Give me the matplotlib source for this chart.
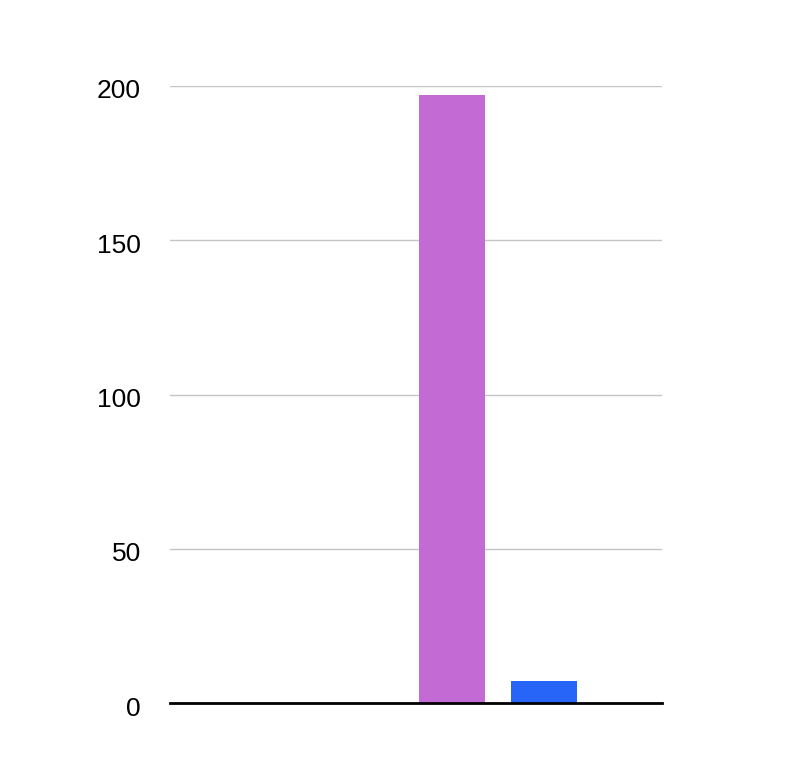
import matplotlib
matplotlib.use("Agg")
import matplotlib.pyplot as plt
import matplotlib.transforms as mtransforms

categories = ["A", "B"]
values = [197, 7]
colors = ["#C46AD5", "#2764F8"]
yticks = [0, 50, 100, 150, 200]

W, H = 786, 764
fig = plt.figure(figsize=(W / 100, H / 100), dpi=100)
left, right, top, bottom = 170, 662, 86, 703
ax = fig.add_axes([left / W, 1 - bottom / H, (right - left) / W, (bottom - top) / H])

x = list(range(len(values)))
ax.bar(x, values, width=66 / 92, color=colors, zorder=3)
ax.set_xlim((170 - 452) / 92, (662 - 452) / 92)
ax.set_ylim(0, 200)
ax.set_yticks(yticks)
ax.set_yticklabels([str(t) for t in yticks], fontsize=19, family=["Liberation Sans", "DejaVu Sans"])
ax.tick_params(axis="y", length=0, pad=21)
offset = mtransforms.ScaledTranslation(0, -3 / 100, fig.dpi_scale_trans)
for lbl in ax.get_yticklabels():
    lbl.set_transform(lbl.get_transform() + offset)
ax.set_xticks([])
ax.yaxis.grid(True, color="#c4c4c4", linewidth=1.0, zorder=0)
for s in ["top", "right", "left"]:
    ax.spines[s].set_visible(False)
ax.spines["bottom"].set_color("black")
ax.spines["bottom"].set_linewidth(2)
ax.spines["bottom"].set_zorder(4)

fig.savefig("out.png", dpi=100)
